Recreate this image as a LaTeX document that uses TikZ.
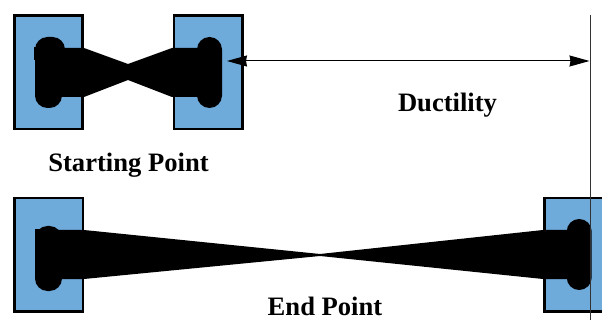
\documentclass[tikz,border=0pt]{standalone}
\usepackage{fontspec}
\setmainfont{Liberation Serif}
\usetikzlibrary{arrows.meta}
\definecolor{gripblue}{RGB}{110,170,218}
\tikzset{
  gripbox/.style={draw=black,fill=gripblue,line width=2.6pt},
  specimen/.style={fill=black,draw=none},
  gripend/.style={fill=black,draw=none,rounded corners=12.5pt},
  caption/.style={font=\bfseries\fontsize{26.6}{30}\selectfont,anchor=base,inner sep=0pt},
  thinline/.style={draw=black!80,line width=1pt},
  dimline/.style={draw=black,line width=1pt,{Stealth[length=20pt,width=11pt,inset=1pt]}-{Stealth[length=20pt,width=11pt,inset=1pt]}}
}
\begin{document}
\begin{tikzpicture}[x=1pt,y=-1pt]
\useasboundingbox (0,0) rectangle (602,320);
\clip (0,0) rectangle (602,320);
\fill[white] (0,0) rectangle (602,320);
% grip boxes
\draw[gripbox] (14.5,15.5) rectangle (82.5,129);
\draw[gripbox] (174,15.5) rectangle (242.5,129);
\draw[gripbox] (14.5,198) rectangle (83,311.5);
\draw[gripbox] (544.5,198) rectangle (640,311.5);
% start specimen
\fill[gripend] (35,37) rectangle (65,80);
\fill[gripend] (35,60) rectangle (62,108);
\fill[specimen] (35,48) -- (84,48) -- (128,64) -- (128,80) -- (84,97) -- (35,97) -- cycle;
\fill[specimen] (33.5,47) rectangle (40,60);
\fill[gripend] (197,37) rectangle (222,108);
\fill[specimen] (200,48) -- (172,48) -- (128,64) -- (128,80) -- (172,97) -- (200,97) -- cycle;
% end specimen
\fill[gripend] (35,226) rectangle (62,291);
\fill[specimen] (35,229) rectangle (50,250);
\fill[specimen] (55,230) -- (84,230) -- (320,254) -- (320,256) -- (84,279) -- (55,279) -- cycle;
\fill[gripend] (566.7,219) rectangle (591.7,290);
\fill[specimen] (570,230) -- (543,230) -- (320,254) -- (320,256) -- (543,279) -- (570,279) -- cycle;
% limit line and dimension
\coordinate (limtop) at (590.7,15);
\coordinate (limbot) at (590.7,320);
\coordinate (dimleft) at (227,61);
\coordinate (dimright) at (589.5,61);
\draw[thinline] (limtop) -- (limbot);
\draw[dimline] (dimleft) -- (dimright);
% labels
\node[caption] (ductility) at (447.5,111.7) {Ductility};
\node[caption] (start) at (128.5,171.7) {Starting Point};
\node[caption] (finish) at (325,315) {End Point};
\end{tikzpicture}
\end{document}
